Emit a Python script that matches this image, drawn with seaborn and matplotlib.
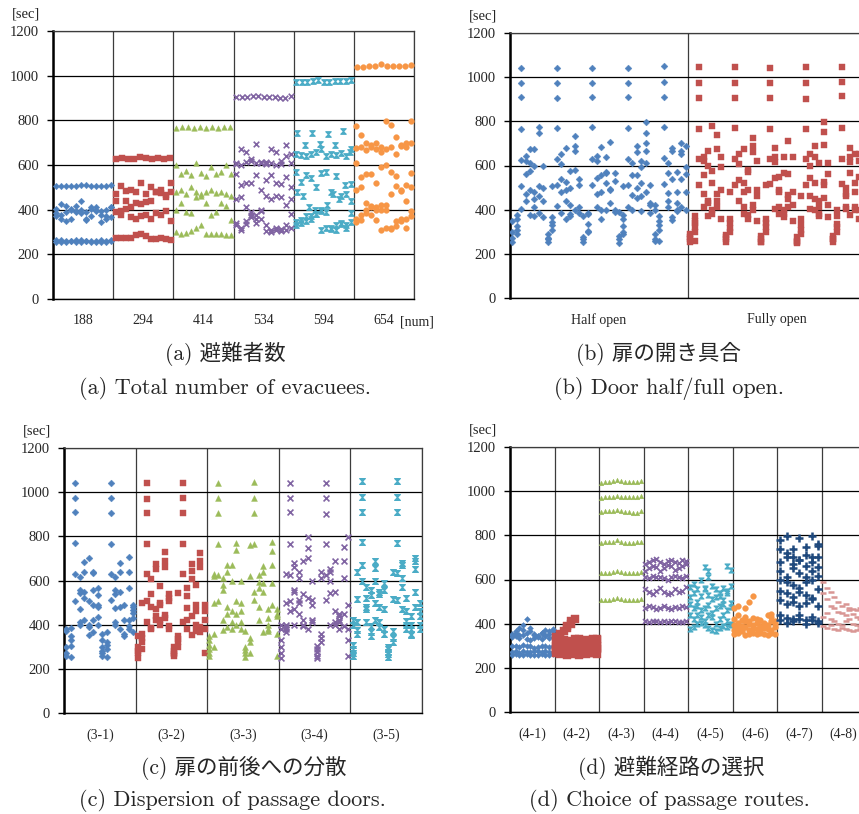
import numpy as np
import pandas as pd
import matplotlib
matplotlib.use('Agg')
import matplotlib.pyplot as plt
from matplotlib.path import Path
import seaborn as sns

sns.set_style('white')
plt.rcParams['font.family'] = ['Liberation Serif', 'DejaVu Serif']
plt.rcParams['axes.unicode_minus'] = False

nan = np.nan

# ---------------- (a) 避難者数 : rows of results per evacuee count ----------------
evac_labels = ['188', '294', '414', '534', '594', '654']
evac_188 = [
    [505, 505, 505, 508, 508, 512, 510, 508, 505, 508, 508, 512],
    [262, 255, 258, 260, 255, 262, 258, 255, 260, 255, 258, 262],
    [255, 262, 255, 258, 262, 255, 260, 258, 255, 262, 255, 258],
    [405, 425, 415, 400, 395, 400, 390, 405, 410, 395, 400, 410],
    [385, 375, 390, 360, 415, 440, 360, 410, 395, 375, 360, 365],
    [370, 360, 350, 405, 390, 385, 355, 370, 400, 345, 370, 410],
]
evac_294 = [
    [625, 630, 628, 628, 635, 630, 628, 630, 628, 632],
    [272, 275, 272, 275, 285, 290, 280, 270, 268, 272, 270, 265],
    [470, 505, 485, 490, 480, 520, 470, 500, 480, 490, 465, 480],
    [440, 395, 440, 410, 430, 425, 435, 440, 480, 475, 455, 520],
    [390, 375, 405, 365, 360, 370, 375, 360, 385, 375, 395, 350],
]
evac_414 = [
    [765, 768, 770, 765, 772, 765, 768, 765, 768, 770],
    [300, 290, 295, 305, 320, 330, 290, 290, 290, 290, 288, 285],
    [600, 560, 575, 555, 610, 565, 550, 590, 560, 570, 600, 560],
    [480, 490, 470, 500, 480, 470, 480, 490, 475, 480, 470, 460],
    [400, 430, 390, 385, 455, 460, 430, 375, 390, 430, 415, 355],
]
evac_534 = [
    [905, 905, 905, 908, 910, 905, 903, 905, 900, 898, 910],
    [610, 670, 660, 620, 695, 610, 615, 670, 660, 620, 690, 610],
    [605, 600, 615, 625, 610, 612, 605, 610, 600, 605, 640, 650],
    [560, 510, 520, 520, 555, 490, 535, 555, 520, 515, 545, 500],
    [450, 455, 410, 390, 375, 400, 460, 450, 460, 455, 420, 450],
    [340, 320, 350, 365, 340, 360, 330, 310, 320, 315, 330, 320],
    [330, 310, 335, 375, 360, 395, 305, 300, 310, 305, 310, 380],
]
evac_594 = [
    [972, 970, 972, 975, 980, 972, 972, 975, 975, 978, 980],
    [745, 690, 745, 695, 740, 690, 750, 660],
    [650, 645, 640, 650, 660, 670, 640, 650, 645, 655, 640, 670],
    [570, 525, 555, 540, 500, 565, 570, 480, 550, 460, 470, 515],
    [480, 460, 410, 400, 395, 420, 470, 450, 510, 440],
    [330, 340, 350, 370, 380, 400, 390, 320, 310, 335, 330, 345],
    [345, 355, 370, 360, 380, 310, 320, 315, 330, 340, 320, 385],
]
evac_654 = [
    [1040, 1040, 1043, 1045, 1050, 1045, 1045, 1042, 1043, 1048],
    [775, 735, 700, 680, 700, 680, 795, 780, 725, 690, 700, 795],
    [675, 680, 665, 690, 670, 660, 670, 680, 650, 685, 680, 700],
    [610, 545, 560, 560, 520, 590, 600, 570, 550, 490, 510, 565],
    [490, 500, 430, 415, 410, 400, 420, 470, 505, 485, 440, 500],
    [360, 355, 385, 410, 400, 420, 400, 315, 350, 350, 360, 395],
    [345, 375, 400, 375, 355, 310, 320, 320, 325, 360, 320, 370],
]

# ---------------- (b) 扉の開き具合 : results per case ----------------
door_labels = ['Half open', 'Fully open']
half_open = [
    [270, 255, 300, 350], [290, 310, 325, 360, 375], [1040, 975, 910, 765, 625, 505, 405],
    [560, 470, 620, 645, 440], [675, 575, 375, 610, 490], [410, 450, 480, 600, 675, 370],
    [505, 745, 775, 460, 385], [440, 500, 365, 600],
    [255, 270, 290, 265], [310, 330, 345, 365, 505], [1040, 975, 905, 770, 630, 510, 415],
    [480, 540, 605, 650, 385], [680, 440, 490, 525, 360], [575, 370, 380, 420, 500],
    [580, 665, 690, 735, 400], [410, 540, 385, 510],
    [255, 265, 275, 370], [305, 335, 385, 300, 380], [1040, 975, 910, 775, 630, 510],
    [470, 545, 620, 645, 410], [685, 400, 360, 555, 480], [520, 565, 640, 400, 570],
    [705, 495, 490, 430], [400, 530, 565, 390],
    [250, 265, 280, 390], [300, 325, 360, 375, 290, 505], [1040, 975, 910, 770, 630, 510, 410],
    [465, 555, 610, 400], [660, 690, 455, 500, 555], [620, 395, 520, 595, 460],
    [610, 665, 700, 745, 795, 480], [510, 430, 385, 420],
    [260, 265, 290, 400, 420], [310, 330, 350, 260, 370], [1050, 980, 910, 775, 635, 515],
    [410, 440, 475, 565, 610], [665, 680, 365, 355, 540], [395, 400, 430, 480, 570],
    [540, 650, 665, 700, 410], [595, 560, 400, 480, 690],
]
fully_open = [
    [265, 275, 290, 255], [300, 320, 340, 350, 260, 370], [1045, 975, 905, 765, 630, 510],
    [555, 620, 640, 470, 410], [665, 600, 440, 370, 430], [575, 520, 380, 400, 780],
    [410, 440, 470, 675, 740], [490, 595, 360, 640],
    [265, 275, 285, 255], [300, 315, 340, 360, 480], [1045, 975, 905, 770, 630, 510],
    [535, 605, 650, 440], [675, 480, 380, 410, 520], [570, 580, 360, 375, 490],
    [400, 420, 660, 690, 725], [460, 490, 350, 620],
    [255, 265, 280, 255], [300, 320, 340, 360, 510], [1040, 975, 905, 765, 630, 515],
    [615, 640, 680, 545, 405], [550, 480, 410, 380, 490], [400, 365, 380, 565, 640],
    [410, 450, 465, 560, 710], [640, 480, 350, 420],
    [250, 260, 275, 255], [290, 310, 330, 360, 460], [1045, 975, 900, 765, 630, 510],
    [405, 460, 545, 600, 650], [690, 450, 400, 520, 640], [370, 380, 410, 440, 610],
    [455, 510, 525, 695, 750, 795], [365, 420, 560, 610],
    [255, 265, 280, 265], [300, 320, 335, 370, 400], [1045, 980, 915, 770, 630, 515],
    [405, 410, 460, 470, 500], [565, 615, 640, 680, 375], [400, 410, 520, 480, 650],
    [360, 400, 550, 650, 620], [380, 460, 520, 700],
]

# ---------------- (c) 扉の前後への分散 : results per case ----------------
disp_labels = ['(3-1)', '(3-2)', '(3-3)', '(3-4)', '(3-5)']
disp_31 = [
    [270, 260, 300, 380, 370], [255, 305, 385, 350, 330], [1040, 975, 910, 770, 630, 505],
    [545, 470, 615, 410, 400, 555], [520, 640, 685, 420, 550], [355, 400, 390, 505, 700],
    [365, 420, 490, 555, 640, 635], [480, 565, 535, 400, 435, 490], [260, 270, 280, 300, 330, 360],
    [255, 290, 310, 320, 365], [1040, 975, 905, 765, 630, 510], [540, 475, 615, 400, 410, 555],
    [550, 640, 680, 380, 480], [350, 420, 360, 490], [380, 395, 565, 640, 705, 420],
    [430, 455, 465, 480, 365, 490],
]
disp_32 = [
    [280, 300, 250, 270, 350], [320, 340, 360, 290, 500], [1040, 970, 905, 765, 630, 505, 410],
    [540, 480, 605, 380, 385], [650, 675, 420, 470, 440], [490, 575, 400, 420, 500],
    [730, 690, 660, 430, 445], [540, 505, 520, 380, 395], [265, 280, 300, 260, 270],
    [320, 335, 350, 545, 300], [1040, 975, 905, 765, 630, 410], [475, 530, 565, 380, 420],
    [605, 645, 675, 440, 355], [490, 580, 400, 370, 460], [660, 690, 725, 390, 365],
    [490, 460, 270, 420, 380],
]
disp_33 = [
    [260, 290, 310, 330, 270, 350], [360, 300, 500, 620, 630], [1040, 975, 905, 765, 625, 505],
    [555, 580, 610, 420, 375], [640, 670, 450, 480, 390], [600, 670, 410, 460, 380],
    [770, 740, 450, 505, 400], [410, 460, 380, 500, 600], [255, 270, 285, 300, 370],
    [320, 340, 270, 760, 620], [1045, 975, 905, 765, 510, 550], [565, 595, 625, 480, 420],
    [640, 665, 550, 365, 590], [370, 380, 400, 430, 470], [590, 670, 735, 775, 490],
    [360, 440, 450, 470, 260],
]
disp_34 = [
    [250, 270, 300, 330, 400, 380], [365, 380, 390, 400, 630, 500], [1040, 975, 910, 765, 625, 505, 460],
    [550, 555, 680, 660, 470, 400], [640, 610, 450, 500, 510], [420, 400, 395, 690, 540],
    [795, 745, 700, 520, 380], [490, 420, 410, 600, 510], [250, 260, 275, 290, 305],
    [320, 340, 360, 640, 610], [1040, 975, 900, 765, 625, 510], [600, 650, 640, 545, 400],
    [550, 460, 410, 690, 400], [410, 420, 440, 380, 450], [395, 450, 610, 690, 750],
    [795, 490, 260, 330, 380],
]
disp_35 = [
    [260, 270, 290, 310, 400, 420], [375, 360, 640, 515, 410], [1050, 980, 910, 775, 600, 670],
    [570, 520, 470, 410, 480], [535, 555, 395, 365, 350], [600, 655, 690, 500, 420],
    [550, 480, 410, 390, 540], [360, 380, 470, 590, 555], [255, 265, 275, 290, 300],
    [320, 340, 370, 640, 515], [1050, 980, 910, 770, 635, 510], [610, 670, 680, 570, 470],
    [460, 415, 400, 380, 520], [360, 355, 380, 400, 440], [480, 550, 650, 690, 700],
    [500, 460, 440, 380, 400],
]

# ---------------- (d) 避難経路の選択 : rows of results per route ----------------
route_labels = ['(4-1)', '(4-2)', '(4-3)', '(4-4)', '(4-5)', '(4-6)', '(4-7)', '(4-8)']
route_41 = [
    [258, 262, 258, 260, 262, 258, 260, 258, 262, 258, 260, 262],
    [270, 275, 268, 278, 272, 270, 275, 278, 272, 275, 270, 272],
    [298, 300, 295, 305, 300, 298, 290, 295, 300, 298, 295, 300],
    [340, 345, 335, 350, 330, 325, 335, 340, 330, 345, 335, 340],
    [355, 365, 350, 370, 360, 380, 355, 345, 360, 350, 365, 375],
    [350, 360, 380, 395, 420, 365, 350, 345, 360, 370, 355, 365],
]
route_42 = [
    [265, 262, 268, 260, 265, 262, 260, 265, 262, 268, 265, 262],
    [280, 275, 285, 278, 272, 280, 285, 275, 280, 278, 282, 285],
    [300, 295, 305, 298, 310, 300, 295, 305, 300, 310, 305, 298],
    [320, 315, 325, 318, 322, 330, 320, 315, 325, 320, 330, 325],
    [340, 355, 365, 380, 400, 420, 330, 315, 320, 310, 325, 330],
    [285, 330, 310, 390, 410, 300, 295, 290, 285, 280, 300, 290],
]
route_43 = [
    [1035, 1040, 1040, 1045, 1050, 1045, 1040, 1040, 1040, 1042, 1045],
    [970, 972, 972, 975, 980, 975, 972, 972, 975, 975, 978],
    [905, 908, 908, 910, 915, 910, 905, 905, 902, 900, 912],
    [765, 768, 768, 770, 778, 770, 765, 765, 765, 768, 772],
    [628, 630, 630, 632, 638, 632, 630, 628, 630, 630, 635],
    [505, 508, 508, 510, 515, 510, 508, 505, 508, 508, 512],
]
route_44 = [
    [670, 680, 690, 695, 680, 670, 685, 690, 680, 675, 690, 685],
    [640, 650, 660, 655, 640, 650, 665, 660, 645, 650, 660, 670],
    [610, 605, 615, 610, 612, 605, 600, 610, 615, 612, 608, 615],
    [555, 545, 535, 550, 560, 545, 535, 540, 555, 545, 550, 565],
    [470, 480, 475, 468, 472, 478, 470, 465, 475, 470, 480, 475],
    [410, 408, 412, 410, 406, 410, 408, 412, 410, 406, 408, 412],
]
route_45 = [
    [565, 580, 555, 600, 560, 610, 570, 555, 540, 560, 550, 570],
    [520, 540, 500, 525, 555, 530, 510, 520, 525, 505, 540, 495],
    [490, 470, 480, 460, 470, 485, 450, 470, 480, 490, 460, 475],
    [440, 420, 440, 430, 410, 440, 430, 400, 420, 440, 410, 400],
    [375, 385, 400, 405, 395, 380, 370, 365, 380, 390, 385, 395],
    [nan, nan, nan, nan, 655, 640, nan, nan, nan, nan, 660, 645],
]
route_46 = [
    [355, 360, 365, 350, 355, 360, 352, 358, 355, 350, 360, 355],
    [370, 380, 375, 385, 370, 380, 375, 365, 380, 375, 370, 385],
    [395, 405, 390, 410, 400, 395, 405, 390, 400, 395, 410, 400],
    [420, 440, 415, 430, 410, 425, 420, 415, 405, 440, 430, 410],
    [470, 480, nan, 470, 500, 525, nan, nan, nan, nan, 445, nan],
]
route_47 = [
    [780, 795, 740, 790, 745, 795, 760],
    [740, 720, 700, 690, 710, 700, 750],
    [680, 700, 670, 690, 660, 680, 700],
    [640, 610, 650, 630, 610, 640, 655],
    [600, 590, 575, 560, 590, 600, 615],
    [550, 540, 520, 545, 530, 515, 555],
    [505, 490, 500, 480, 495, 510, 480],
    [440, 425, 420, 440, 415, 430, 410],
    [415, 405, 410, 420, 400, 415, 405],
]
route_48 = [
    [590, 560, 545, 520, 500, 480, 490, 470, 465, 460, 470, 480],
    [540, 510, 480, 470, 455, 450, 440, 460, 445, 430, 420, 440],
    [430, 450, 420, 410, 400, 395, 410, 420, 400, 395, 390, 385],
    [390, 380, 395, 375, 370, 380, 375, 370, 365, 370, 375, 380],
]

# marker styles (Excel defaults)
hourglass = Path([(-1, 1), (1, 1), (-1, -1), (1, -1), (-1, 1)],
                 [Path.MOVETO, Path.LINETO, Path.LINETO, Path.LINETO, Path.CLOSEPOLY])
STY = {
    'blue':   dict(marker='D', color='#4F81BD', s=11, edgecolor='#4F81BD', linewidth=0.3),
    'red':    dict(marker='s', color='#C0504D', s=14, edgecolor='#C0504D', linewidth=0.3),
    'green':  dict(marker='^', color='#9BBB59', s=16, edgecolor='#9BBB59', linewidth=0.3),
    'purple': dict(marker='x', color='#8064A2', s=16, linewidth=1.2),
    'cyan':   dict(marker=hourglass, color='#4BACC6', s=16, edgecolor='#4BACC6', linewidth=0.8),
    'orange': dict(marker='o', color='#F79646', s=17, edgecolor='#F79646', linewidth=0.3),
    'navy':   dict(marker='+', color='#1F497D', s=26, linewidth=1.8),
    'pink':   dict(marker='_', color='#D99694', s=24, linewidth=1.8),
}


def rows_frame(groups):
    recs = []
    for gi, rows in enumerate(groups):
        for row in rows:
            n = len(row)
            for j, v in enumerate(row):
                recs.append((gi, gi + (j + 0.5) / n, v))
    return pd.DataFrame(recs, columns=['group', 'x', 'sec']).dropna()


def cases_frame(groups):
    recs = []
    for gi, cases in enumerate(groups):
        n = len(cases)
        for k, vals in enumerate(cases):
            for v in vals:
                recs.append((gi, gi + (k + 0.5) / n, v))
    return pd.DataFrame(recs, columns=['group', 'x', 'sec'])


def setup_axes(ax, labels):
    n = len(labels)
    ax.set_xlim(0, n)
    ax.set_ylim(0, 1200)
    ax.set_yticks(range(0, 1201, 200))
    ax.set_xticks(np.arange(n) + 0.5)
    ax.set_xticklabels(labels)
    ax.set_xticks(np.arange(n + 1), minor=True)
    ax.set_axisbelow(True)
    ax.grid(axis='y', which='major', color='black', lw=0.9)
    ax.grid(axis='x', which='minor', color='#3c3c3c', lw=0.9)
    ax.grid(axis='x', which='major', visible=False)
    ax.tick_params(axis='x', which='both', length=0, pad=11, labelsize=10)
    ax.tick_params(axis='y', length=4, width=1, color='black', pad=6,
                   labelsize=10.5, left=True)
    for side in ['top', 'right']:
        ax.spines[side].set_color('#3c3c3c')
        ax.spines[side].set_linewidth(0.9)
    ax.spines['left'].set_linewidth(1.8)
    ax.spines['left'].set_color('black')
    ax.spines['bottom'].set_color('black')
    ax.spines['bottom'].set_linewidth(1.0)
    ax.set_xlabel('')
    ax.set_ylabel('')
    ax.annotate('[sec]', xy=(0, 1), xycoords='axes fraction', xytext=(-9, 12),
                textcoords='offset points', ha='right', va='center', fontsize=10.5)


def draw(ax, df, styles, sizes=None):
    for gi, sty in enumerate(styles):
        kw = dict(STY[sty])
        if sizes is not None and sizes[gi] is not None:
            kw['s'] = sizes[gi]
        sub = df[df['group'] == gi]
        sns.scatterplot(data=sub, x='x', y='sec', ax=ax, legend=False, zorder=3, **kw)


W, H = 859, 814
fig = plt.figure(figsize=(W / 100, H / 100), dpi=100)


def add_axes(l, r, t, b):
    return fig.add_axes([l / W, 1 - b / H, (r - l) / W, (b - t) / H])


# (a)
ax_a = add_axes(53, 414, 31, 299)
draw(ax_a, rows_frame([evac_188, evac_294, evac_414, evac_534, evac_594, evac_654]),
     ['blue', 'red', 'green', 'purple', 'cyan', 'orange'])
setup_axes(ax_a, evac_labels)
ax_a.text(0.961, -0.086, '[num]', transform=ax_a.transAxes, ha='left', va='center', fontsize=10)

# (b)
ax_b = add_axes(510, 866, 33, 298)
draw(ax_b, cases_frame([half_open, fully_open]), ['blue', 'red'], sizes=[12, 22])
setup_axes(ax_b, door_labels)

# (c)
ax_c = add_axes(64, 422, 448, 713)
draw(ax_c, cases_frame([disp_31, disp_32, disp_33, disp_34, disp_35]),
     ['blue', 'red', 'green', 'purple', 'cyan'], sizes=[12, 22, 18, 18, 18])
setup_axes(ax_c, disp_labels)

# (d)
ax_d = add_axes(510, 866, 447, 712)
draw(ax_d, rows_frame([route_41, route_42, route_43, route_44, route_45, route_46, route_47, route_48]),
     ['blue', 'red', 'green', 'purple', 'cyan', 'orange', 'navy', 'pink'],
     sizes=[9, 30, 11, 13, 13, 17, 26, 24])
setup_axes(ax_d, route_labels)

# captions
cap = ['cmr10', 'Noto Sans CJK JP', 'DejaVu Sans']
fig.text(225 / W, 1 - 354 / H, '(a) 避難者数', ha='center', va='center', fontsize=15.5, family=cap)
fig.text(225 / W, 1 - 389 / H, '(a) Total number of evacuees.', ha='center', va='center', fontsize=16, family=cap)
fig.text(658 / W, 1 - 354 / H, '(b) 扉の開き具合', ha='center', va='center', fontsize=15.5, family=cap)
fig.text(669 / W, 1 - 389 / H, '(b) Door half/full open.', ha='center', va='center', fontsize=16, family=cap)
fig.text(244 / W, 1 - 768 / H, '(c) 扉の前後への分散', ha='center', va='center', fontsize=15.5, family=cap)
fig.text(232 / W, 1 - 800 / H, '(c) Dispersion of passage doors.', ha='center', va='center', fontsize=16, family=cap)
fig.text(671 / W, 1 - 768 / H, '(d) 避難経路の選択', ha='center', va='center', fontsize=15.5, family=cap)
fig.text(669 / W, 1 - 800 / H, '(d) Choice of passage routes.', ha='center', va='center', fontsize=16, family=cap)

fig.savefig('out.png', dpi=100)
